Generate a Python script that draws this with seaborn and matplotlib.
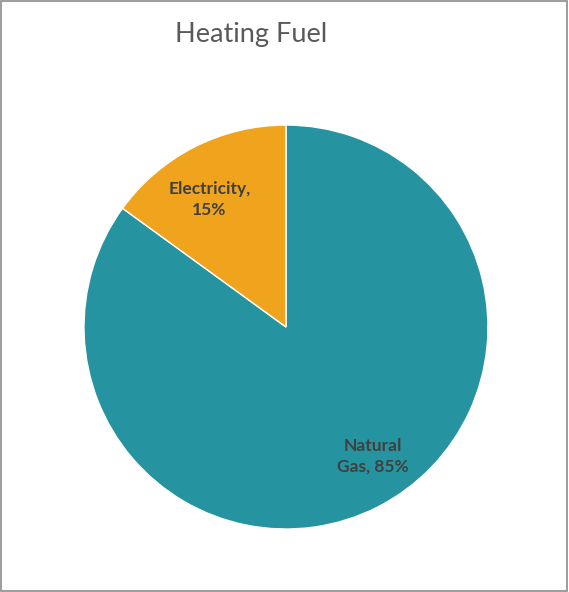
import matplotlib
matplotlib.use("Agg")
import numpy as np
import matplotlib.pyplot as plt
import seaborn as sns
from matplotlib.patches import Rectangle

# Data
fuels = ["Natural Gas", "Electricity"]
shares = [85, 15]
label_texts = ["Natural\nGas, 85%", "Electricity,\n15%"]
colors = ["#2594A0", "#F0A31C"]

sns.set_theme(style="white")
plt.rcParams['font.family'] = ['Lato', 'DejaVu Sans']

fig = plt.figure(figsize=(5.69, 5.92), dpi=100)
ax = fig.add_axes([0.1476, 0.1064, 0.710, 0.6824])

wedges, _ = ax.pie(
    shares,
    colors=colors,
    startangle=90,
    counterclock=False,
    wedgeprops=dict(edgecolor="white", linewidth=1),
)

# data labels placed inside each wedge, nudged a bit like Excel does
label_shift = [7, 4]       # degrees
label_dist = [0.77, 0.735]
for w, txt, sh, d in zip(wedges, label_texts, label_shift, label_dist):
    ang = np.deg2rad((w.theta1 + w.theta2) / 2 + sh)
    ax.text(d * np.cos(ang), d * np.sin(ang), txt, ha="center", va="center",
            fontsize=12.5, fontweight="bold", color="#404040", linespacing=1.35)

ax.set_xlim(-1, 1)
ax.set_ylim(-1, 1)
ax.set_aspect("equal")

fig.text(0.441, 0.941, "Heating Fuel", fontsize=19.5, color="#595959",
         ha="center", va="center")

# thin outer frame like the original chart area
fig.patches.append(Rectangle((0.001, 0.001), 0.996, 0.997, transform=fig.transFigure,
                             fill=False, edgecolor="#8c8c8c", linewidth=1.2))

fig.savefig("out.png", dpi=100)
